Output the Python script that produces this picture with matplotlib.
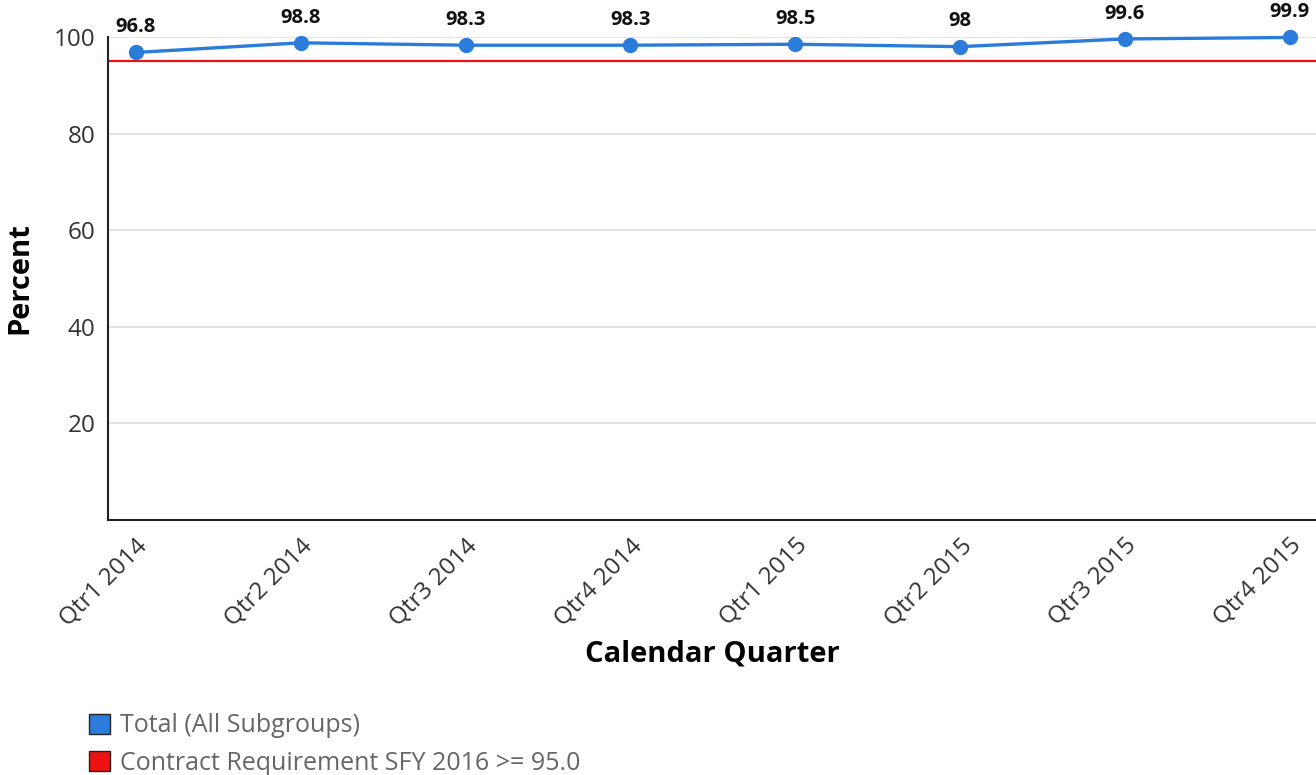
import matplotlib.pyplot as plt
from matplotlib.patches import Patch

plt.rcParams['font.family'] = ['Open Sans', 'DejaVu Sans']

# quarterly totals and the contract threshold
quarters = ['Qtr1 2014', 'Qtr2 2014', 'Qtr3 2014', 'Qtr4 2014',
            'Qtr1 2015', 'Qtr2 2015', 'Qtr3 2015', 'Qtr4 2015']
total = [96.8, 98.8, 98.3, 98.3, 98.5, 98, 99.6, 99.9]
requirement = 95.0

blue = '#2b7bdb'
red = '#ee1111'

fig = plt.figure(figsize=(13.16, 7.75), dpi=100)
ax = fig.add_axes([108 / 1316, 1 - 520 / 775, 1 - 108 / 1316, (520 - 37) / 775])

x = list(range(len(quarters)))
ax.axhline(requirement, color=red, lw=1.6, zorder=2)
ax.plot(x, total, color=blue, lw=2.4, marker='o', markersize=10, zorder=3, clip_on=False)

for xi, v in zip(x, total):
    ax.annotate(f'{v:g}', (xi, v), xytext=(0, 11), textcoords='offset points',
                ha='center', va='bottom', fontsize=14.5, fontweight='bold',
                color='#111111', annotation_clip=False)

ax.set_xlim(-0.17, len(quarters) - 1 + 0.16)
ax.set_ylim(0, 100)
ax.set_yticks([20, 40, 60, 80, 100])
ax.set_xticks(x)
ax.set_xticklabels(quarters, rotation=45, ha='right', rotation_mode='anchor')
ax.tick_params(axis='x', length=0, labelsize=17.5, colors='#333333', pad=10)
ax.tick_params(axis='y', length=0, labelsize=17.5, colors='#333333', pad=9)
ax.grid(axis='y', color='#dddddd', lw=1.2)
ax.set_axisbelow(True)

for side in ['top', 'right']:
    ax.spines[side].set_visible(False)
for side in ['left', 'bottom']:
    ax.spines[side].set_color('#222222')
    ax.spines[side].set_linewidth(1.5)

ax.set_ylabel('Percent', fontsize=21, fontweight='bold', labelpad=14)
ax.set_xlabel('Calendar Quarter', fontsize=21, fontweight='bold', labelpad=6)

handles = [Patch(facecolor=blue, edgecolor='#222222', label='Total (All Subgroups)'),
           Patch(facecolor=red, edgecolor='#222222', label='Contract Requirement SFY 2016 >= 95.0')]
fig.legend(handles=handles, loc='upper left', bbox_to_anchor=(66 / 1316, 1 - 691 / 775),
           frameon=False, fontsize=18, labelcolor='#666666', handlelength=0.85,
           handleheight=0.85, handletextpad=0.4, labelspacing=0.5)

fig.savefig('out.png', dpi=100)
